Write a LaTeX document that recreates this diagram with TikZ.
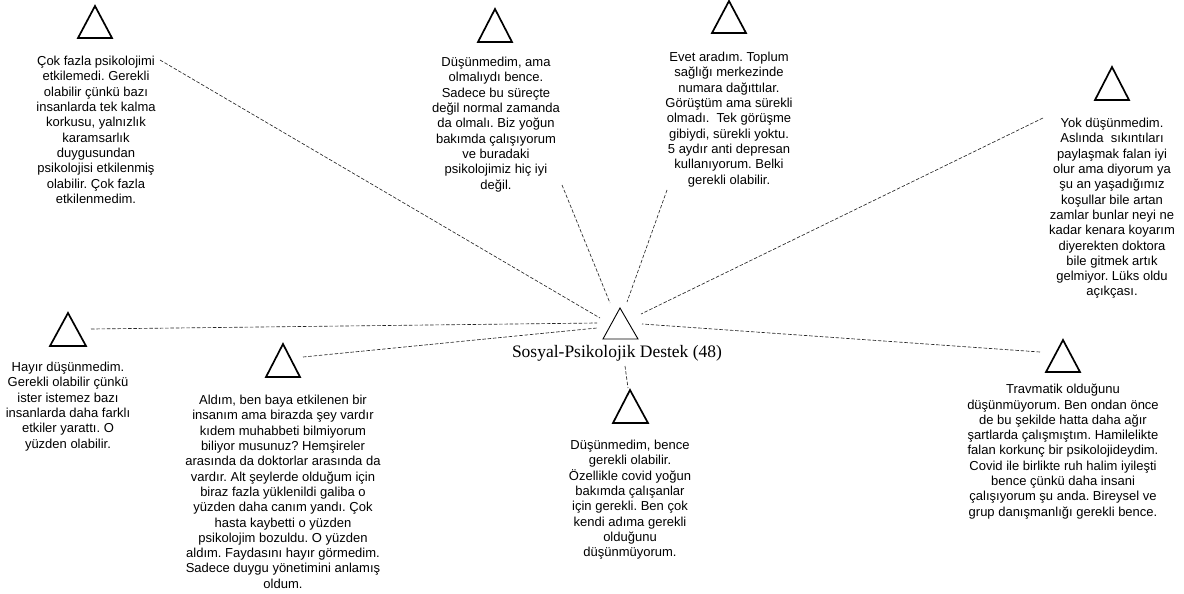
\documentclass[tikz,border=0pt]{standalone}
\usepackage{fontspec}
\setmainfont{Liberation Sans}
\newfontfamily\seriffont{Liberation Serif}
\frenchspacing
\begin{document}
\begin{tikzpicture}[x=1pt,y=-1pt,
  quote/.style={inner sep=0pt, anchor=north, align=center, font=\fontsize{13}{15.3}\selectfont},
  tri/.style={line width=1.7pt, line join=miter},
  hubtri/.style={line width=0.9pt},
  link/.style={black!85, line width=0.65pt, dash pattern=on 3.5pt off 1.8pt}]
\useasboundingbox (0,0) rectangle (1184,594);

% central
\draw[hubtri] (620,308) -- (638,339) -- (603,339) -- cycle;
\node[inner sep=0pt, font=\seriffont\fontsize{17.5}{20}\selectfont] (hub) at (617,353) {Sosyal-Psikolojik Destek (48)};

% outer triangles
\draw[tri] (95,6) -- (112,38) -- (78,38) -- cycle;
\draw[tri] (495,9) -- (512,42) -- (478,42) -- cycle;
\draw[tri] (729,1) -- (746,33) -- (712,33) -- cycle;
\draw[tri] (1112,67) -- (1129,100) -- (1095,100) -- cycle;
\draw[tri] (68,313) -- (86,346) -- (50,346) -- cycle;
\draw[tri] (283,344) -- (300,377) -- (266,377) -- cycle;
\draw[tri] (630,390) -- (648,423) -- (613,423) -- cycle;
\draw[tri] (1063,340) -- (1080,372) -- (1046,372) -- cycle;

% texts
\node[quote] (q1) at (96,56) {Çok fazla psikolojimi\\etkilemedi. Gerekli\\olabilir çünkü bazı\\insanlarda tek kalma\\korkusu, yalnızlık\\karamsarlık\\duygusundan\\psikolojisi etkilenmiş\\olabilir. Çok fazla\\etkilenmedim.};
\node[quote] (q2) at (496,57) {Düşünmedim, ama\\olmalıydı bence.\\Sadece bu süreçte\\değil normal zamanda\\da olmalı. Biz yoğun\\bakımda çalışıyorum\\ve buradaki\\psikolojimiz hiç iyi\\değil.};
\node[quote] (q3) at (729,52) {Evet aradım. Toplum\\sağlığı merkezinde\\numara dağıttılar.\\Görüştüm ama sürekli\\olmadı.\ \ Tek görüşme\\gibiydi, sürekli yoktu.\\5 aydır anti depresan\\kullanıyorum. Belki\\gerekli olabilir.};
\node[quote] (q4) at (1112,118) {Yok düşünmedim.\\Aslında\ \ sıkıntıları\\paylaşmak falan iyi\\olur ama diyorum ya\\şu an yaşadığımız\\koşullar bile artan\\zamlar bunlar neyi ne\\kadar kenara koyarım\\diyerekten doktora\\bile gitmek artık\\gelmiyor. Lüks oldu\\açıkçası.};
\node[quote] (q5) at (68,362) {Hayır düşünmedim.\\Gerekli olabilir çünkü\\ister istemez bazı\\insanlarda daha farklı\\etkiler yarattı. O\\yüzden olabilir.};
\node[quote] (q6) at (283,395) {Aldım, ben baya etkilenen bir\\insanım ama birazda şey vardır\\kıdem muhabbeti bilmiyorum\\biliyor musunuz? Hemşireler\\arasında da doktorlar arasında da\\vardır. Alt şeylerde olduğum için\\biraz fazla yüklenildi galiba o\\yüzden daha canım yandı. Çok\\hasta kaybetti o yüzden\\psikolojim bozuldu. O yüzden\\aldım. Faydasını hayır görmedim.\\Sadece duygu yönetimini anlamış\\oldum.};
\node[quote] (q7) at (630,440) {Düşünmedim, bence\\gerekli olabilir.\\Özellikle covid yoğun\\bakımda çalışanlar\\için gerekli. Ben çok\\kendi adıma gerekli\\olduğunu\\düşünmüyorum.};
\node[quote] (q8) at (1063,384) {Travmatik olduğunu\\düşünmüyorum. Ben ondan önce\\de bu şekilde hatta daha ağır\\şartlarda çalışmıştım. Hamilelikte\\falan korkunç bir psikolojideydim.\\Covid ile birlikte ruh halim iyileşti\\bence çünkü daha insani\\çalışıyorum şu anda. Bireysel ve\\grup danışmanlığı gerekli bence.};

% connector ends
\coordinate (h1) at (600,318);
\coordinate (h2) at (610,303);
\coordinate (h3) at (627,302);
\coordinate (h4) at (641,314);
\coordinate (h5) at (597,323);
\coordinate (h6) at (597,328);
\coordinate (h8) at (642,324);
\coordinate (e1) at (160,60);
\coordinate (e2) at (562,185);
\coordinate (e3) at (667,190);
\coordinate (e4) at (1043,118);
\coordinate (e5) at (91,329);
\coordinate (e6) at (303,357);
\coordinate (e7a) at (625,366);
\coordinate (e7b) at (628,388);
\coordinate (e8) at (1040,352);

\draw[link] (e1) -- (h1);
\draw[link] (e2) -- (h2);
\draw[link] (e3) -- (h3);
\draw[link] (e4) -- (h4);
\draw[link] (e5) -- (h5);
\draw[link] (e6) -- (h6);
\draw[link] (e7a) -- (e7b);
\draw[link] (e8) -- (h8);
\end{tikzpicture}
\end{document}
